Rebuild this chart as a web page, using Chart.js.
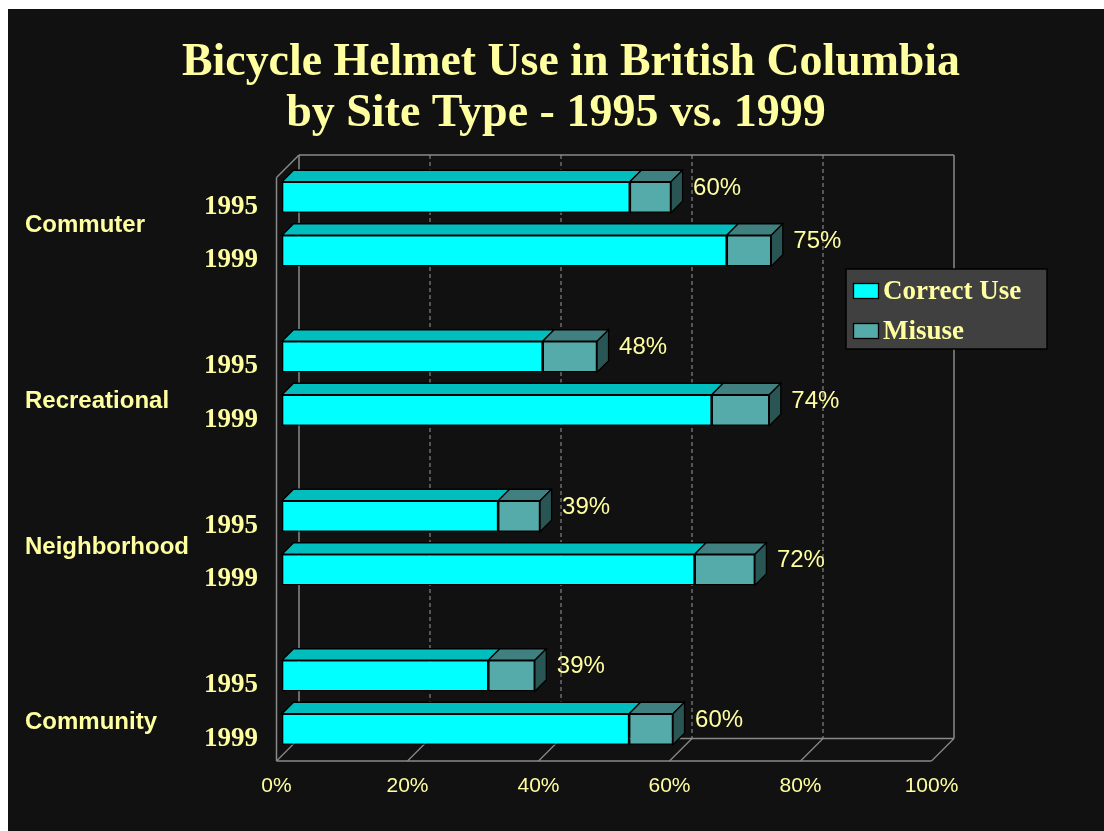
<!DOCTYPE html>
<html><head><meta charset="utf-8">
<script src="https://cdn.jsdelivr.net/npm/chart.js@4.4.1/dist/chart.umd.min.js"></script>
<style>
html,body{margin:0;padding:0;background:#ffffff;overflow:hidden;}
#wrap{position:absolute;left:8px;top:9px;width:1096px;height:822px;background:#111111;}
canvas{display:block;}
</style></head><body>
<div id="wrap"><canvas id="c" width="1096" height="822"></canvas></div>
<script>
// ---------------- data ----------------
const titleLines = ['Bicycle Helmet Use in British Columbia', 'by Site Type - 1995 vs. 1999'];
const categories = ['Commuter', 'Recreational', 'Neighborhood', 'Community'];
const years = ['1995', '1999'];
const seriesNames = ['Correct Use', 'Misuse'];
const correct1995 = [53.1, 39.8, 33.0, 31.5];
const misuse1995  = [6.3, 8.3, 6.4, 7.1];
const correct1999 = [67.9, 65.6, 63.0, 53.0];
const misuse1999  = [6.8, 8.8, 9.2, 6.7];
const totalLabels1995 = ['60%', '48%', '39%', '39%'];
const totalLabels1999 = ['75%', '74%', '72%', '60%'];
const xTickValues = [0, 20, 40, 60, 80, 100];

// ---------------- styles / layout ----------------
const TEXT = '#FFFFA0';
const COL = {
  correctFront: '#00FFFF', correctTop: '#00BEBE',
  misuseFront: '#55AAAA', misuseTop: '#408080', misuseSide: '#2A5555',
  frame: '#8a8a8a', legendBg: '#404040'
};
const L = {
  barDepth: { dx: 11.5, dy: -11.5 },
  frontOff: { dx: -5.5, dy: 5.5 },
  backOff: { dx: 17, dy: -17 },
  wallTopFromTop: 27.75,
  floorFromBottom: 26.75,
  tickLabelDy: 4,
  catLabelDy: [1, 17.5, 4, 19.5],
  title: [{ x: 563, y: 66, maxW: 778 }, { x: 548, y: 116.5, maxW: 560 }],
  legend: { x: 838, y: 260, w: 201, h: 80, sw: 25, sh: 15, sx: 845.5, rows: [282, 322], tx: 875 }
};

const labelsByYear = [totalLabels1995, totalLabels1999];

const chartData = {
  labels: categories,
  datasets: [
    { label: seriesNames[0], data: correct1995, stack: years[0], backgroundColor: COL.correctFront },
    { label: seriesNames[1], data: misuse1995, stack: years[0], backgroundColor: COL.misuseFront },
    { label: seriesNames[0], data: correct1999, stack: years[1], backgroundColor: COL.correctFront },
    { label: seriesNames[1], data: misuse1999, stack: years[1], backgroundColor: COL.misuseFront }
  ]
};

function poly(ctx, pts, fill) {
  ctx.beginPath();
  ctx.moveTo(pts[0][0], pts[0][1]);
  for (let i = 1; i < pts.length; i++) ctx.lineTo(pts[i][0], pts[i][1]);
  ctx.closePath();
  ctx.fillStyle = fill; ctx.fill();
  ctx.lineWidth = 1.3; ctx.strokeStyle = '#000'; ctx.stroke();
}
function line(ctx, x1, y1, x2, y2) {
  ctx.beginPath(); ctx.moveTo(x1, y1); ctx.lineTo(x2, y2); ctx.stroke();
}

const threeD = {
  id: 'threeD',
  beforeDraw(chart) {
    const ctx = chart.ctx;
    ctx.save();
    ctx.fillStyle = TEXT;
    ctx.font = 'bold 46px "Liberation Serif", "Times New Roman", serif';
    ctx.textAlign = 'center'; ctx.textBaseline = 'alphabetic';
    titleLines.forEach((t, i) => ctx.fillText(t, L.title[i].x, L.title[i].y, L.title[i].maxW));
    ctx.restore();
  },
  beforeDatasetsDraw(chart) {
    const ctx = chart.ctx, xs = chart.scales.x, ca = chart.chartArea;
    const floorY = ca.bottom - L.floorFromBottom, topY = ca.top + L.wallTopFromTop;
    const F = L.frontOff, B = L.backOff;
    const p = v => xs.getPixelForValue(v);
    ctx.save();
    ctx.strokeStyle = COL.frame; ctx.lineWidth = 1.5;
    // back wall outline
    line(ctx, p(0) + B.dx, topY + B.dy, p(100) + B.dx, topY + B.dy);
    line(ctx, p(0) + B.dx, topY + B.dy, p(0) + B.dx, floorY + B.dy);
    line(ctx, p(100) + B.dx, topY + B.dy, p(100) + B.dx, floorY + B.dy);
    // left wall
    line(ctx, p(0) + F.dx, topY + F.dy, p(0) + F.dx, floorY + F.dy);
    line(ctx, p(0) + F.dx, topY + F.dy, p(0) + B.dx, topY + B.dy);
    // floor
    line(ctx, p(0) + F.dx, floorY + F.dy, p(100) + F.dx, floorY + F.dy);
    line(ctx, p(0) + B.dx, floorY + B.dy, p(100) + B.dx, floorY + B.dy);
    ctx.lineWidth = 1.2;
    xs.ticks.forEach(t => line(ctx, p(t.value) + F.dx, floorY + F.dy, p(t.value) + B.dx, floorY + B.dy));
    // dashed back-wall gridlines
    ctx.setLineDash([4, 3]); ctx.lineWidth = 1; ctx.strokeStyle = '#9a9a9a';
    xs.ticks.slice(1, -1).forEach(t => line(ctx, p(t.value) + B.dx, topY + B.dy, p(t.value) + B.dx, floorY + B.dy));
    ctx.setLineDash([]);
    // x tick labels, on the front edge of the floor
    ctx.fillStyle = TEXT;
    ctx.font = '21px "Liberation Sans", Arial, sans-serif';
    ctx.textAlign = 'center'; ctx.textBaseline = 'middle';
    xs.ticks.forEach(t => ctx.fillText(t.value + '%', p(t.value) + F.dx, ca.bottom + L.tickLabelDy));
    ctx.restore();
  },
  afterDatasetsDraw(chart) {
    const ctx = chart.ctx, ca = chart.chartArea, ys = chart.scales.y;
    const D = L.barDepth;
    ctx.save();
    for (let s = 0; s < 2; s++) {
      const m0 = chart.getDatasetMeta(2 * s), m1 = chart.getDatasetMeta(2 * s + 1);
      m0.data.forEach((el0, i) => {
        const a = el0.getProps(['x', 'y', 'base', 'height'], true);
        const b = m1.data[i].getProps(['x', 'y', 'base', 'height'], true);
        const top = a.y - a.height / 2, bot = a.y + a.height / 2;
        poly(ctx, [[a.base, top], [a.x, top], [a.x + D.dx, top + D.dy], [a.base + D.dx, top + D.dy]], COL.correctTop);
        poly(ctx, [[b.base, top], [b.x, top], [b.x + D.dx, top + D.dy], [b.base + D.dx, top + D.dy]], COL.misuseTop);
        poly(ctx, [[b.x, top], [b.x + D.dx, top + D.dy], [b.x + D.dx, bot + D.dy], [b.x, bot]], COL.misuseSide);
        // value label
        ctx.fillStyle = TEXT;
        ctx.font = '24px "Liberation Sans", Arial, sans-serif';
        ctx.textAlign = 'left'; ctx.textBaseline = 'middle';
        ctx.fillText(labelsByYear[s][i], b.x + D.dx + 10.5, a.y - 9);
        // year label
        ctx.font = 'bold 27px "Liberation Serif", "Times New Roman", serif';
        ctx.textAlign = 'right';
        ctx.fillText(years[s], ca.left - 24, a.y + 9.5);
      });
    }
    // category labels
    ctx.fillStyle = TEXT;
    ctx.font = 'bold 24px "Liberation Sans", Arial, sans-serif';
    ctx.textAlign = 'left'; ctx.textBaseline = 'middle';
    categories.forEach((c, i) => ctx.fillText(c, 17, ys.getPixelForValue(i) + L.catLabelDy[i]));
    ctx.restore();
  },
  afterDraw(chart) {
    const ctx = chart.ctx, g = L.legend;
    ctx.save();
    ctx.fillStyle = COL.legendBg; ctx.fillRect(g.x, g.y, g.w, g.h);
    ctx.strokeStyle = '#000'; ctx.lineWidth = 1.5; ctx.strokeRect(g.x, g.y, g.w, g.h);
    const fills = [COL.correctFront, COL.misuseFront];
    seriesNames.forEach((n, i) => {
      const cy = g.rows[i];
      ctx.fillStyle = fills[i];
      ctx.fillRect(g.sx, cy - g.sh / 2, g.sw, g.sh);
      ctx.strokeStyle = '#000'; ctx.lineWidth = 1.3;
      ctx.strokeRect(g.sx, cy - g.sh / 2, g.sw, g.sh);
      ctx.fillStyle = TEXT;
      ctx.font = 'bold 27px "Liberation Serif", "Times New Roman", serif';
      ctx.textAlign = 'left'; ctx.textBaseline = 'middle';
      ctx.fillText(n, g.tx, cy + 1);
    });
    ctx.restore();
  }
};

new Chart(document.getElementById('c'), {
  type: 'bar',
  data: chartData,
  options: {
    indexAxis: 'y',
    responsive: false,
    animation: false,
    events: [],
    categoryPercentage: 0.6708,
    barPercentage: 0.5794,
    datasets: { bar: { borderColor: '#000', borderWidth: 1.3, borderSkipped: false } },
    layout: { padding: { left: 274, right: 167, top: 135.25, bottom: 0 } },
    plugins: { legend: { display: false }, title: { display: false }, tooltip: { enabled: false } },
    scales: {
      x: {
        type: 'linear', stacked: true, min: 0, max: 100,
        afterBuildTicks: s => { s.ticks = xTickValues.map(v => ({ value: v })); },
        afterFit: s => { s.height = 48.75; },
        grid: { display: false, drawTicks: false },
        border: { display: false },
        ticks: { display: false }
      },
      y: { type: 'category', display: false, offset: true }
    }
  },
  plugins: [threeD]
});
</script>
</body></html>
